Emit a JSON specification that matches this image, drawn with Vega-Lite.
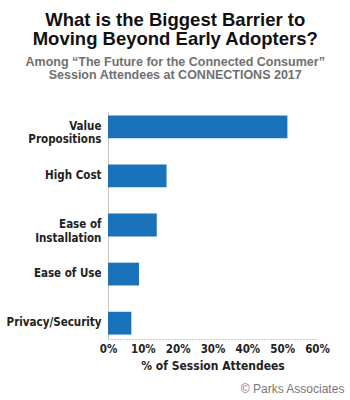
{
  "$schema": "https://vega.github.io/schema/vega-lite/v6.json",
  "background": "white",
  "padding": {"left": 6, "right": 5, "top": 10, "bottom": 5},
  "title": {
    "text": ["What is the Biggest Barrier to", "Moving Beyond Early Adopters?"],
    "subtitle": ["Among “The Future for the Connected Consumer”", "Session Attendees at CONNECTIONS 2017"],
    "anchor": "middle",
    "frame": "bounds",
    "font": "Liberation Sans",
    "fontSize": 18.5,
    "fontWeight": "bold",
    "color": "#111111",
    "lineHeight": 19,
    "subtitleFont": "Liberation Sans",
    "subtitleFontSize": 12.5,
    "subtitleFontWeight": "bold",
    "subtitleColor": "#707070",
    "subtitleLineHeight": 12.5,
    "subtitlePadding": 8,
    "offset": 30
  },
  "vconcat": [
    {
      "width": 209,
      "height": 228,
      "title": {
        "text": "© Parks Associates",
        "orient": "bottom",
        "anchor": "end",
        "frame": "bounds",
        "font": "Liberation Sans",
        "fontSize": 12,
        "fontWeight": "normal",
        "color": "#777777",
        "offset": 12,
        "dx": 15
      },
      "data": {
        "values": [
          {"barrier": "Value|Propositions", "pct": 51.5},
          {"barrier": "High Cost", "pct": 16.8},
          {"barrier": "Ease of|Installation", "pct": 14.0},
          {"barrier": "Ease of Use", "pct": 8.9},
          {"barrier": "Privacy/Security", "pct": 6.7}
        ]
      },
      "mark": {"type": "bar", "color": "#1a73ba"},
      "encoding": {
        "y": {
          "field": "barrier",
          "type": "nominal",
          "sort": null,
          "scale": {"paddingInner": 0.535, "paddingOuter": 0.09},
          "axis": {
            "title": null,
            "ticks": false,
            "domainColor": "#c8c8c8",
            "domainWidth": 1,
            "labelExpr": "split(datum.value, '|')",
            "labelFont": "DejaVu Sans Condensed",
            "labelFontSize": 11.5,
            "labelFontWeight": "bold",
            "labelColor": "#222222",
            "labelLineHeight": 13.5,
            "labelPadding": 7,
            "labelLimit": 200
          }
        },
        "x": {
          "field": "pct",
          "type": "quantitative",
          "scale": {"domain": [0, 60], "nice": false},
          "axis": {
            "title": "% of Session Attendees",
            "titleFont": "DejaVu Sans Condensed",
            "titleFontSize": 12,
            "titleFontWeight": "bold",
            "titleColor": "#222222",
            "titlePadding": 6,
            "values": [0, 10, 20, 30, 40, 50, 60],
            "labelExpr": "datum.value + '%'",
            "labelOverlap": false,
            "labelFlush": false,
            "labelFont": "DejaVu Sans Condensed",
            "labelFontSize": 11.5,
            "labelFontWeight": "bold",
            "labelColor": "#222222",
            "labelPadding": 4,
            "ticks": false,
            "grid": false,
            "domainColor": "#999999",
            "domainDash": [1, 2],
            "domainWidth": 1
          }
        }
      }
    }
  ],
  "config": {"view": {"stroke": null}}
}
